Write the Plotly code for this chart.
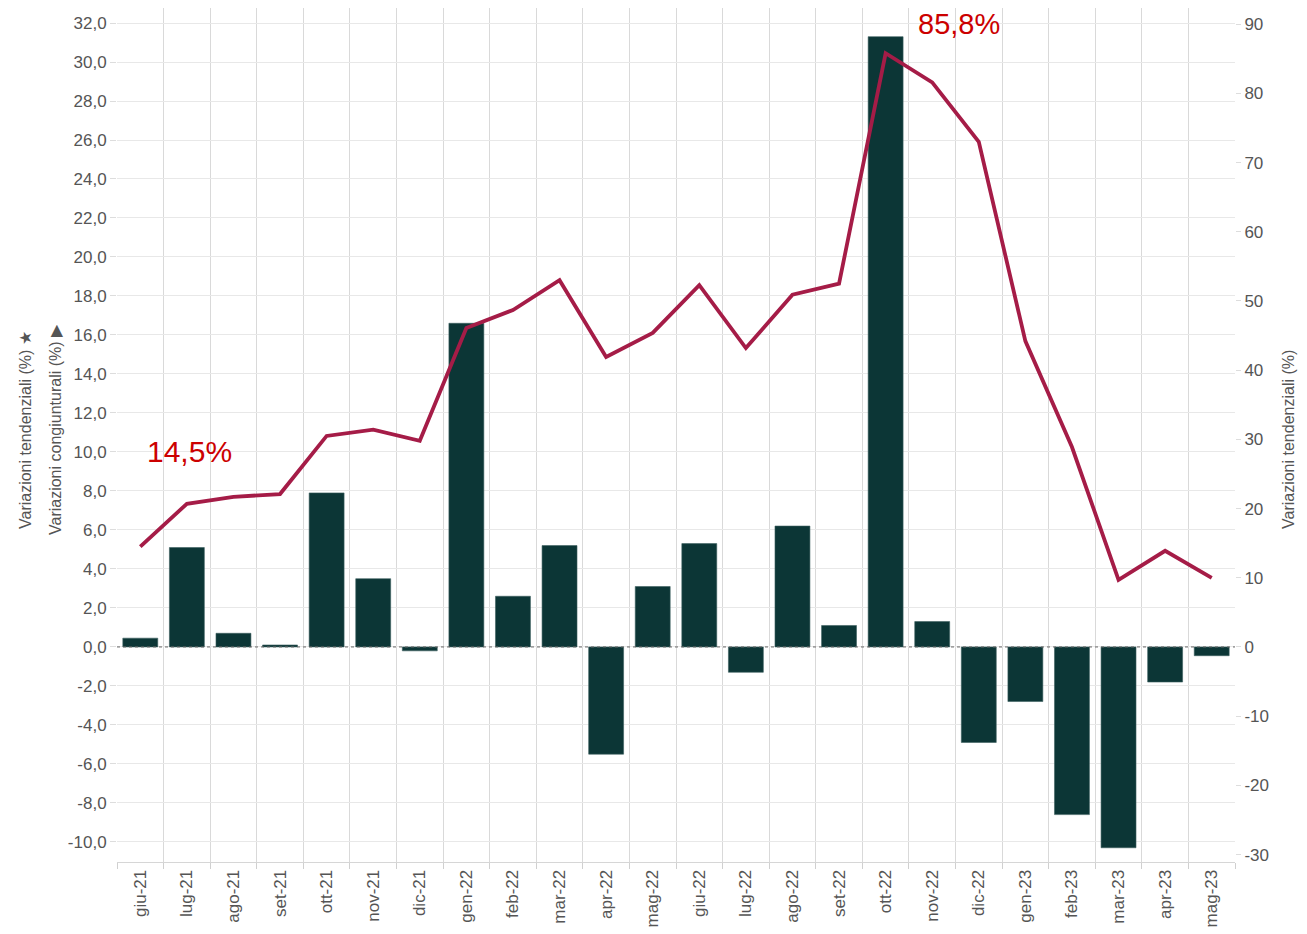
import plotly.graph_objects as go

categories = ["giu-21", "lug-21", "ago-21", "set-21", "ott-21", "nov-21", "dic-21",
              "gen-22", "feb-22", "mar-22", "apr-22", "mag-22", "giu-22", "lug-22",
              "ago-22", "set-22", "ott-22", "nov-22", "dic-22", "gen-23", "feb-23",
              "mar-23", "apr-23", "mag-23"]

congiunturali = [0.45, 5.1, 0.7, 0.1, 7.9, 3.5, -0.2, 16.6, 2.6, 5.2, -5.5, 3.1,
                 5.3, -1.3, 6.2, 1.1, 31.3, 1.3, -4.9, -2.8, -8.6, -10.3, -1.8, -0.45]

tendenziali = [14.5, 20.7, 21.7, 22.1, 30.5, 31.4, 29.8, 46.1, 48.7, 53.0, 41.9, 45.4,
               52.3, 43.2, 50.9, 52.5, 85.8, 81.6, 73.0, 44.2, 28.9, 9.7, 13.9, 10.0]

left_ticks = list(range(-10, 33, 2))
left_labels = [f"{v:.1f}".replace(".", ",") for v in left_ticks]
right_ticks = list(range(-30, 91, 10))
right_labels = [str(v) for v in right_ticks]

GRAY = "#555555"
FONT = "Liberation Sans, Arial, sans-serif"

fig = go.Figure()
fig.add_trace(go.Bar(x=categories, y=congiunturali, marker=dict(color="#0c3636",
                     line=dict(color="#3d5f5f", width=0.6)), yaxis="y", name="congiunturali"))
fig.add_trace(go.Scatter(x=categories, y=tendenziali, mode="lines",
                         line=dict(color="#a51c47", width=3.8), yaxis="y2", name="tendenziali"))

# page has an 8px body margin; figure coordinates below are offset accordingly
OFF = 8
W, H = 1307 - OFF, 934 - OFF
L, R, T, B = 117 - OFF, 1235 - OFF, 0, 862 - OFF

def px(x):
    return (x - OFF - L) / (R - L)

def py(y):
    return (B - (y - OFF)) / (B - T)

fig.update_layout(
    width=W, height=H,
    margin=dict(l=L, r=W - R, t=T, b=H - B, pad=0),
    paper_bgcolor="white", plot_bgcolor="white",
    showlegend=False,
    bargap=0.25,
    font=dict(family=FONT, color=GRAY, size=16),
    xaxis=dict(type="category", tickangle=-90, tickson="boundaries", showgrid=True,
               gridcolor="#d9d9d9", gridwidth=1, ticks="outside", ticklen=6,
               tickcolor="#d0d0d0", showline=True, linecolor="#d6d6d6",
               automargin=False, tickfont=dict(size=17, color=GRAY)),
    yaxis=dict(range=[-11.03, 32.77], tickvals=left_ticks, ticktext=left_labels,
               showgrid=True, gridcolor="#e8e8e8", zeroline=False, automargin=False,
               ticks="outside", ticklen=6, tickcolor="#dddddd",
               tickfont=dict(size=17, color=GRAY)),
    yaxis2=dict(range=[-31.07, 92.34], tickvals=right_ticks, ticktext=right_labels,
                overlaying="y", side="right", automargin=False,
                showgrid=False, zeroline=False, ticks="outside", ticklen=5,
                tickcolor="#dddddd", tickfont=dict(size=17, color=GRAY)),
)

fig.add_shape(type="line", xref="paper", x0=0, x1=1, yref="y", y0=0, y1=0,
              line=dict(color="#666666", width=1, dash="dot"), layer="above")

fig.add_annotation(text="14,5%", x="lug-21", xref="x", xshift=3, y=28.3, yref="y2",
                   showarrow=False, font=dict(size=30, color="#cc0000", family=FONT))
fig.add_annotation(text="85,8%", x="nov-22", xref="x", xshift=27, y=90.0, yref="y2",
                   showarrow=False, font=dict(size=29, color="#cc0000", family=FONT))

fig.add_annotation(text="Variazioni tendenziali (%) ★", textangle=-90,
                   x=px(25), y=py(430), xref="paper", yref="paper",
                   xanchor="center", yanchor="middle",
                   showarrow=False, font=dict(size=16, color=GRAY, family=FONT))
fig.add_annotation(text="Variazioni congiunturali (%) ▶", textangle=-90,
                   x=px(55), y=py(430), xref="paper", yref="paper",
                   xanchor="center", yanchor="middle",
                   showarrow=False, font=dict(size=16, color=GRAY, family=FONT))
fig.add_annotation(text="Variazioni tendenziali (%)", textangle=-90,
                   x=px(1288), y=py(440), xref="paper", yref="paper",
                   xanchor="center", yanchor="middle",
                   showarrow=False, font=dict(size=16, color=GRAY, family=FONT))

fig.write_html("out.html")
